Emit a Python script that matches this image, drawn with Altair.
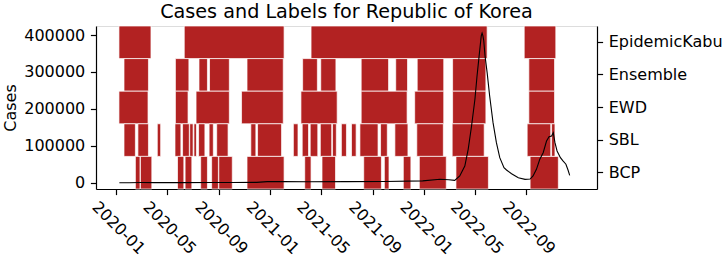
import altair as alt
import pandas as pd

FONT = "DejaVu Sans"
RED = "#b22222"

methods = ["EpidemicKabu", "Ensemble", "EWD", "SBL", "BCP"]

kabu = [("2020-01-08", "2020-03-24"), ("2020-06-11", "2021-02-03"),
        ("2021-04-08", "2022-05-31"), ("2022-08-27", "2022-11-10")]
ensemble = [("2020-01-20", "2020-03-18"), ("2020-05-21", "2020-06-22"), ("2020-07-16", "2020-08-05"),
            ("2020-08-10", "2020-09-26"), ("2020-11-07", "2021-02-01"), ("2021-03-19", "2021-04-23"),
            ("2021-05-01", "2021-06-06"), ("2021-08-05", "2021-10-09"), ("2021-10-26", "2021-11-23"),
            ("2021-12-16", "2022-02-17"), ("2022-03-10", "2022-05-28"), ("2022-09-07", "2022-11-07")]
ewd = [("2020-01-08", "2020-03-17"), ("2020-05-21", "2020-06-20"), ("2020-07-09", "2020-09-26"),
       ("2020-10-25", "2021-02-01"), ("2021-03-15", "2021-06-09"), ("2021-08-05", "2021-11-22"),
       ("2021-12-10", "2022-02-17"), ("2022-03-10", "2022-05-28"), ("2022-09-07", "2022-11-07")]
sbl = [("2020-01-20", "2020-02-16"), ("2020-02-22", "2020-03-18"), ("2020-04-08", "2020-04-16"),
       ("2020-05-20", "2020-06-03"), ("2020-06-07", "2020-06-23"), ("2020-06-24", "2020-07-02"),
       ("2020-07-04", "2020-07-10"), ("2020-07-15", "2020-07-30"), ("2020-08-09", "2020-08-19"),
       ("2020-08-27", "2020-09-23"), ("2020-11-16", "2020-11-28"), ("2020-12-02", "2021-01-28"),
       ("2021-02-25", "2021-03-08"), ("2021-03-18", "2021-04-02"), ("2021-04-06", "2021-04-24"),
       ("2021-04-30", "2021-05-27"), ("2021-05-29", "2021-06-07"), ("2021-06-19", "2021-07-01"),
       ("2021-07-13", "2021-07-24"), ("2021-08-02", "2021-09-14"), ("2021-09-20", "2021-10-06"),
       ("2021-10-24", "2021-11-24"), ("2021-12-15", "2022-02-16"), ("2022-03-09", "2022-05-24"),
       ("2022-09-03", "2022-10-29"), ("2022-10-31", "2022-11-08")]
bcp = [("2020-02-16", "2020-02-27"), ("2020-02-28", "2020-03-26"), ("2020-05-26", "2020-06-10"),
       ("2020-06-13", "2020-06-29"), ("2020-07-20", "2020-08-05"), ("2020-08-15", "2020-08-31"),
       ("2020-09-01", "2020-10-03"), ("2020-11-07", "2021-02-03"), ("2021-03-24", "2021-04-08"),
       ("2021-05-04", "2021-06-05"), ("2021-08-11", "2021-09-22"), ("2021-09-29", "2021-10-10"),
       ("2021-11-13", "2021-12-01"), ("2021-12-21", "2022-02-23"), ("2022-03-18", "2022-06-03"),
       ("2022-09-10", "2022-11-16")]

dates = ["2020-01-09", "2020-02-01", "2020-03-01", "2020-04-01", "2020-06-01", "2020-08-20",
         "2020-10-01", "2020-11-30", "2020-12-25", "2021-02-01", "2021-04-01", "2021-07-01",
         "2021-10-01", "2021-12-29", "2022-02-08", "2022-03-01", "2022-03-15", "2022-03-27",
         "2022-04-08", "2022-04-16", "2022-04-24", "2022-05-02", "2022-05-07", "2022-05-12",
         "2022-05-17", "2022-05-19", "2022-05-21", "2022-05-23", "2022-05-26", "2022-05-31",
         "2022-06-06", "2022-06-14", "2022-06-22", "2022-06-30", "2022-07-10", "2022-07-16",
         "2022-07-28", "2022-08-13", "2022-08-29", "2022-09-10", "2022-09-17", "2022-09-25",
         "2022-10-03", "2022-10-11", "2022-10-19", "2022-10-25", "2022-10-31", "2022-11-04",
         "2022-11-08", "2022-11-13", "2022-11-21", "2022-11-27", "2022-12-04", "2022-12-09",
         "2022-12-13"]
cases = [0, 100, 500, 200, 300, 600,
         400, 1000, 3000, 3500, 2500, 3000,
         3500, 5000, 9200, 8000, 6500, 18200,
         45300, 90500, 153700, 226000, 289200, 343400,
         397600, 404900, 397600, 384000, 343400, 298100,
         235000, 162600, 108400, 67800, 40700, 34400,
         24400, 13600, 9200, 10000, 18200, 36300,
         63400, 81300, 113000, 124700, 126600, 135500,
         108400, 85900, 67800, 59000, 50000, 34400,
         20000]

tick_months = [(2020, 1), (2020, 5), (2020, 9), (2021, 1), (2021, 5), (2021, 9),
               (2022, 1), (2022, 5), (2022, 9)]
case_ticks = [0, 100000, 200000, 300000, 400000]

rows = []
for m, segs in zip(methods, [kabu, ensemble, ewd, sbl, bcp]):
    for s, e in segs:
        rows.append({"method": m, "start": s, "end": e})
rect_df = pd.DataFrame(rows)
line_df = pd.DataFrame({"date": dates, "cases": cases})

x_scale = alt.Scale(type="utc", domain=[
    alt.DateTime(year=2019, month=11, date=14, hours=12, utc=True),
    alt.DateTime(year=2023, month=2, date=15, hours=19, utc=True)])

FS = 16
TS = 5.6

x_axis = alt.Axis(
    values=[alt.DateTime(year=y, month=m, date=1, utc=True) for y, m in tick_months],
    format="%Y-%m", labelAngle=45, labelAlign="center", labelBaseline="middle",
    labelPadding=33, labelOffset=2, tickSize=TS, labelFontSize=FS, labelFont=FONT,
    labelColor="black", labelOverlap=False, labelFlush=False, labelBound=False,
    grid=False, title=None, domainColor="black", tickColor="black", tickWidth=1.2,
    domainWidth=1.2)

rects = alt.Chart(rect_df).mark_rect(
    color=RED, stroke="white", strokeWidth=1, strokeOpacity=0.7
).encode(
    x=alt.X("start:T", scale=x_scale, axis=x_axis),
    x2="end:T",
    y=alt.Y("method:N",
            scale=alt.Scale(domain=methods, paddingInner=0, paddingOuter=0),
            axis=alt.Axis(orient="right", title=None, labelFontSize=FS, labelFont=FONT,
                          labelColor="black", tickSize=TS, labelPadding=5.6, grid=False,
                          domainColor="black", tickColor="black", tickWidth=1.2,
                          domainWidth=1.2)),
)

line = alt.Chart(line_df).mark_line(color="black", strokeWidth=1.1).encode(
    x=alt.X("date:T", scale=x_scale, axis=x_axis),
    y=alt.Y("cases:Q",
            scale=alt.Scale(domain=[-17000, 424400], nice=False, zero=False),
            axis=alt.Axis(orient="left", values=case_ticks, format="d", title="Cases",
                          labelFontSize=FS, labelFont=FONT, labelColor="black",
                          titleFontSize=FS, titleFont=FONT, titleFontWeight="normal",
                          titleColor="black", titleX=-81, titleY=81.5,
                          titleBaseline="alphabetic", tickSize=TS, labelPadding=5.6,
                          grid=False, domainColor="black", tickColor="black",
                          tickWidth=1.2, domainWidth=1.2)),
)

chart = alt.layer(rects, line).resolve_scale(y="independent").properties(
    width=501, height=163,
    title=alt.TitleParams("Cases and Labels for Republic of Korea", fontSize=19.2, font=FONT,
                          fontWeight="normal", color="black", offset=6, dy=18,
                          baseline="alphabetic", frame="group", anchor="middle"),
    autosize=alt.AutoSizeParams(type="none"),
    padding={"left": 96, "top": 26, "right": 127, "bottom": 69},
).configure_view(stroke="black", strokeWidth=1.2).configure(background="white", font=FONT)

chart.save("out.html", embed_options={"renderer": "svg", "actions": False})
